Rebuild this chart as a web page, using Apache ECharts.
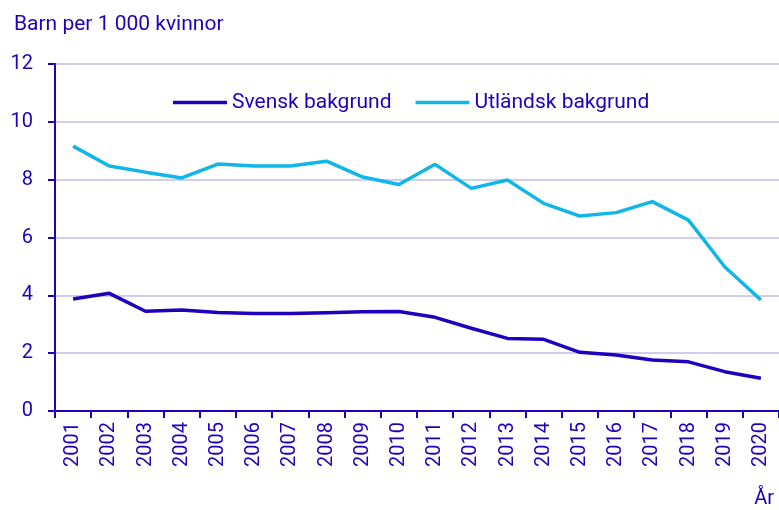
<!DOCTYPE html>
<html>
<head>
<meta charset="utf-8">
<script src="https://cdn.jsdelivr.net/npm/echarts@6/dist/echarts.min.js"></script>
<style>
  html, body { margin: 0; padding: 0; background: #fff; }
  #chart { width: 779px; height: 510px; }
</style>
</head>
<body>
<div id="chart"></div>
<script>
const years = ['2001', '2002', '2003', '2004', '2005', '2006', '2007', '2008', '2009', '2010',
  '2011', '2012', '2013', '2014', '2015', '2016', '2017', '2018', '2019', '2020'];
const svensk = [3.87, 4.07, 3.45, 3.49, 3.41, 3.37, 3.37, 3.40, 3.43, 3.44,
  3.24, 2.86, 2.51, 2.48, 2.03, 1.94, 1.76, 1.70, 1.36, 1.13];
const utlandsk = [9.16, 8.47, 8.26, 8.06, 8.54, 8.47, 8.47, 8.64, 8.09, 7.83,
  8.53, 7.70, 7.99, 7.18, 6.74, 6.86, 7.24, 6.60, 4.99, 3.84];

const dark = '#1e00be';
const light = '#11b6e8';
const font = 'Roboto';

const chart = echarts.init(document.getElementById('chart'), null, { renderer: 'canvas' });

const option = {
  animation: false,
  textStyle: { fontFamily: font, color: dark },
  title: [{
    text: 'Barn per 1 000 kvinnor',
    left: 9,
    top: 9,
    textStyle: { fontFamily: font, fontSize: 21, fontWeight: 'normal', color: dark }
  }, {
    text: 'År',
    right: 0,
    top: 484,
    textStyle: { fontFamily: font, fontSize: 20, fontWeight: 'normal', color: dark }
  }],
  legend: {
    left: 168,
    top: 87,
    itemWidth: 54,
    itemHeight: 3.5,
    itemGap: 24,
    icon: 'rect',
    textStyle: { fontFamily: font, fontSize: 21, color: dark },
    data: ['Svensk bakgrund', 'Utländsk bakgrund']
  },
  grid: { left: 55, right: 0, top: 64, bottom: 99, containLabel: false },
  xAxis: {
    type: 'category',
    data: years,
    boundaryGap: true,
    axisLine: { lineStyle: { color: dark, width: 2 } },
    axisTick: { show: true, length: 7, lineStyle: { color: dark, width: 2 } },
    axisLabel: { rotate: 90, fontSize: 20, color: dark, fontFamily: font, margin: 11, interval: 0 },
    splitLine: { show: false }
  },
  yAxis: {
    type: 'value',
    min: 0,
    max: 12,
    interval: 2,
    axisLine: { show: true, lineStyle: { color: dark, width: 2 } },
    axisTick: { show: true, length: 7, lineStyle: { color: dark, width: 2 } },
    axisLabel: { fontSize: 20, color: dark, fontFamily: font, margin: 22 },
    splitLine: { lineStyle: { color: '#d0cef0', width: 2 } }
  },
  series: [{
    name: 'Svensk bakgrund',
    type: 'line',
    data: svensk,
    symbol: 'none',
    itemStyle: { color: dark },
    lineStyle: { color: dark, width: 3.5 }
  }, {
    name: 'Utländsk bakgrund',
    type: 'line',
    data: utlandsk,
    symbol: 'none',
    itemStyle: { color: light },
    lineStyle: { color: light, width: 3.5 }
  }]
};

chart.setOption(option);
</script>
</body>
</html>
